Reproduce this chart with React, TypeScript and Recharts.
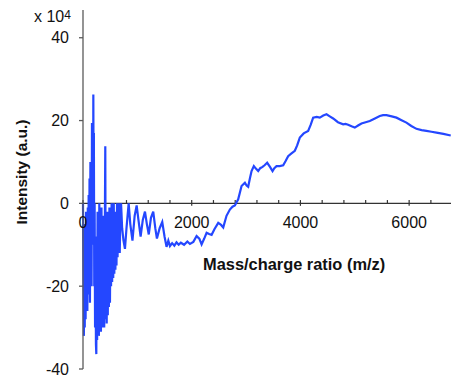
import React from "react";
import {
  LineChart,
  Line,
  XAxis,
  YAxis,
  ReferenceLine,
  ReferenceDot,
} from "recharts";

// m/z positions and intensity (x 10^4)
const mzValues = [
  0, 8, 16, 24, 32, 40, 48, 56, 64, 72, 80, 88, 96, 104, 112, 120, 128, 136, 144, 150,
  158, 165, 172, 180, 186, 190, 195, 200, 207, 214, 222, 230, 238, 245, 252, 260, 268, 276, 284, 292,
  300, 310, 320, 330, 340, 350, 360, 370, 380, 390, 400, 410, 418, 426, 436, 446, 456, 466, 476, 486,
  496, 506, 516, 526, 536, 546, 556, 566, 576, 586, 596, 606, 616, 626, 636, 646, 656, 666, 676, 690,
  700, 720, 745, 772, 800, 840, 870, 910, 950, 987, 1020, 1060, 1100, 1140, 1175, 1210, 1250, 1292, 1330, 1360,
  1410, 1458, 1500, 1537, 1570, 1600, 1640, 1680, 1720, 1760, 1800, 1860, 1920, 1967, 2030, 2090, 2140, 2182, 2230, 2274,
  2320, 2366, 2420, 2488, 2540, 2580, 2640, 2702, 2750, 2794, 2855, 2917, 2978, 3010, 3039, 3070, 3101, 3143, 3180, 3223,
  3260, 3303, 3340, 3388, 3440, 3487, 3520, 3560, 3620, 3683, 3730, 3774, 3830, 3897, 3940, 3989, 4060, 4142, 4190, 4234,
  4300, 4357, 4420, 4480, 4540, 4602, 4690, 4786, 4830, 4877, 4940, 5000, 5060, 5123, 5200, 5276, 5370, 5460, 5520, 5583,
  5680, 5767, 5860, 5950, 6040, 6134, 6230, 6318, 6410, 6502, 6630, 6765,
];

const intensityValues = [
  0, -18, -32, -5, -30, -12, -28, -2, -24, -8, -26, -1, -22, 2, -20, 6, -24, 10, -18, 9,
  -20, 19.4, -10, 12, -6, 26.3, 4, 17, -20, 0, -30, -8, -34, -36.4, -12, -33, -2, -31, -6, -32,
  0, -29, -4, -31, -1, -28, -6, -30, -3, -30, -10, 13.8, -28, -5, -29, -2, -27, -6, -25, -1,
  -24, -4, -20, 0, -19, -6, -18, 0, -17, -4, -16, -2, -15, 0, -13, -3, -12, 0, -12, -1,
  0, -6, -9, -11, -6, 0, -5, -9, -3, -0.5, -4, -8, -4, -2, -5, -7.5, -3.5, -2, -6, -8.5,
  -6, -4.5, -8, -10.5, -9, -10.3, -9.6, -10.2, -9.4, -10, -9.5, -10, -9.2, -9.8, -9.3, -7.9, -8.5, -9.9, -8.5, -7.1,
  -7.4, -7.6, -6.2, -4.7, -5.2, -5.8, -3, -1.5, -0.8, -0.5, 1, 4.2, 5, 4.3, 4, 6, 7.8, 9, 8.4, 7.8,
  8.5, 8.8, 9.2, 9.8, 8.8, 7.8, 8.5, 9, 9, 9.2, 10.3, 11.4, 12, 12.7, 14, 15.9, 16.9, 17.5, 19, 20.7,
  20.9, 20.7, 21.2, 21.5, 21, 20.5, 19.6, 19.1, 19.2, 19, 18.6, 18.3, 18.8, 19.3, 19.6, 19.9, 20.5, 21.1, 21.3, 21.3,
  21, 20.7, 20.1, 19.5, 18.7, 18, 17.7, 17.5, 17.3, 17.1, 16.8, 16.4,
];

const yTicks = [-40, -20, 0, 20, 40];
const xLabelTicks = [0, 2000, 4000, 6000];
const xMinorTicks = [
  400, 800, 1200, 1600, 2400, 2800, 3200, 3600, 4400, 4800, 5200, 5600, 6400,
];

const data = mzValues.map((mz, i) => ({ mz, intensity: intensityValues[i] }));

const font = "'Liberation Sans', Arial, sans-serif";

export default function App() {
  return (
    <div
      style={{
        position: "absolute",
        left: 0,
        top: 0,
        width: 451,
        height: 379,
        background: "#fff",
        fontFamily: font,
        color: "#111",
      }}
    >
      <LineChart
        width={451}
        height={379}
        data={data}
        margin={{ top: 10, right: 0, bottom: 10, left: 0 }}
      >
        <XAxis type="number" dataKey="mz" domain={[0, 6770]} hide />
        <YAxis
          type="number"
          domain={[-40, 46.7]}
          ticks={yTicks}
          width={83}
          tickSize={4}
          tickMargin={10}
          allowDataOverflow
          axisLine={{ stroke: "#5a5a5a", strokeWidth: 1.3 }}
          tickLine={{ stroke: "#5a5a5a", strokeWidth: 1.3 }}
          tick={{ fill: "#111", fontSize: 16, fontFamily: font }}
        />
        <ReferenceLine y={0} stroke="#333" strokeWidth={1.2} />
        {xMinorTicks.map((t) => (
          <ReferenceLine
            key={"m" + t}
            segment={[
              { x: t, y: 0 },
              { x: t, y: 0.8 },
            ]}
            stroke="#333"
            strokeWidth={1.2}
          />
        ))}
        {xLabelTicks.map((t) => (
          <ReferenceLine
            key={"M" + t}
            segment={[
              { x: t, y: -0.6 },
              { x: t, y: 0.8 },
            ]}
            stroke="#333"
            strokeWidth={1.2}
          />
        ))}
        <Line
          type="linear"
          dataKey="intensity"
          stroke="#2447ff"
          strokeWidth={2.2}
          dot={false}
          isAnimationActive={false}
        />
        {xLabelTicks.map((t) => (
          <ReferenceDot
            key={"l" + t}
            x={t}
            y={0}
            r={0}
            stroke="none"
            fill="none"
            label={{
              value: String(t),
              position: "bottom",
              offset: 13,
              fill: "#111",
              fontSize: 16,
              fontFamily: font,
            }}
          />
        ))}
      </LineChart>

      <div
        style={{
          position: "absolute",
          left: 34,
          top: 8,
          fontSize: 16,
          lineHeight: "18px",
          whiteSpace: "nowrap",
        }}
      >
        x 10
        <span style={{ fontSize: 12, position: "relative", top: -3 }}>4</span>
      </div>

      <div
        style={{
          position: "absolute",
          left: 22,
          top: 172,
          transform: "translate(-50%, -50%) rotate(-90deg)",
          fontSize: 15.5,
          fontWeight: "bold",
          whiteSpace: "nowrap",
          lineHeight: "18px",
        }}
      >
        Intensity (a.u.)
      </div>

      <div
        style={{
          position: "absolute",
          left: 203,
          top: 255,
          fontSize: 16.4,
          fontWeight: "bold",
          whiteSpace: "nowrap",
          lineHeight: "18px",
        }}
      >
        Mass/charge ratio (m/z)
      </div>
    </div>
  );
}
